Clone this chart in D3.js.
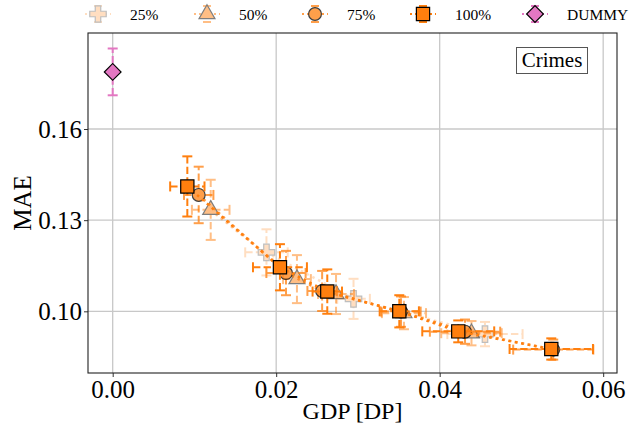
<!DOCTYPE html>
<html>
<head>
<meta charset="utf-8">
<script src="https://cdn.jsdelivr.net/npm/d3@7"></script>
<style>
  body { margin: 0; background: #fff; }
  svg text { font-family: "Liberation Serif", "Times New Roman", serif; fill: #000; }
</style>
</head>
<body>
<div id="chart"></div>
<script>
// data: x = GDP [DP], y = MAE, with x/y error sizes
const series = ["25%", "50%", "75%", "100%", "DUMMY"];

const x25 = [0.01881, 0.02946, 0.04554];
const y25 = [0.1194, 0.1041, 0.0925];
const xe25 = [0.0026, 0.0020, 0.0046];
const ye25 = [0.0076, 0.0066, 0.0040];

const x50 = [0.01199, 0.02254, 0.02732, 0.03563, 0.04389];
const y50 = [0.1334, 0.1106, 0.1057, 0.0994, 0.0928];
const xe50 = [0.0023, 0.0017, 0.0022, 0.0027, 0.0037];
const ye50 = [0.0099, 0.0079, 0.0066, 0.0053, 0.0040];

const x75 = [0.01052, 0.0212, 0.02562, 0.03527, 0.0431, 0.05389];
const y75 = [0.1383, 0.1126, 0.1067, 0.0999, 0.0933, 0.0874];
const xe75 = [0.0018, 0.0024, 0.0018, 0.0024, 0.0043, 0.0049];
const ye75 = [0.0093, 0.0073, 0.0066, 0.0050, 0.0040, 0.0033];

const x100 = [0.00913, 0.02046, 0.02625, 0.03506, 0.04227, 0.05365];
const y100 = [0.1411, 0.1145, 0.1065, 0.1000, 0.0934, 0.0876];
const xe100 = [0.0021, 0.0033, 0.0018, 0.0024, 0.0044, 0.0051];
const ye100 = [0.0099, 0.0076, 0.0073, 0.0053, 0.0036, 0.0035];

const xDummy = [0.0];
const yDummy = [0.1788];
const xeDummy = [0];
const yeDummy = [0.0077];

const xTicks = [0.00, 0.02, 0.04, 0.06];
const yTicks = [0.10, 0.13, 0.16];

const W = 635, H = 427;
const plot = { left: 88, right: 617, top: 33, bottom: 373 };

const svg = d3.select("#chart").append("svg")
    .attr("width", W)
    .attr("height", H);

const x = d3.scaleLinear().domain([-0.00302, 0.06169]).range([plot.left, plot.right]);
const y = d3.scaleLinear().domain([0.0797, 0.1916]).range([plot.bottom, plot.top]);

// grid
svg.append("g").selectAll("line").data(xTicks).enter().append("line")
    .attr("x1", d => x(d)).attr("x2", d => x(d))
    .attr("y1", plot.top).attr("y2", plot.bottom)
    .attr("stroke", "#c8c8c8").attr("stroke-width", 1.3);
svg.append("g").selectAll("line").data(yTicks).enter().append("line")
    .attr("y1", d => y(d)).attr("y2", d => y(d))
    .attr("x1", plot.left).attr("x2", plot.right)
    .attr("stroke", "#c8c8c8").attr("stroke-width", 1.3);

// axes
const xAxis = d3.axisBottom(x).tickValues(xTicks).tickFormat(d3.format(".2f")).tickSize(4).tickPadding(3);
const yAxis = d3.axisLeft(y).tickValues(yTicks).tickFormat(d3.format(".2f")).tickSize(4).tickPadding(2);

const gx = svg.append("g").attr("transform", `translate(0,${plot.bottom})`).call(xAxis);
const gy = svg.append("g").attr("transform", `translate(${plot.left},0)`).call(yAxis);
[gx, gy].forEach(g => {
    g.select(".domain").remove();
    g.selectAll(".tick line").attr("stroke", "#333").attr("stroke-width", 1);
    g.selectAll(".tick text").style("font-size", "25px").attr("fill", "#000");
});
gy.selectAll(".tick text").attr("dy", "0.34em");

svg.append("text")
    .attr("x", (plot.left + plot.right) / 2)
    .attr("y", 419)
    .attr("text-anchor", "middle")
    .style("font-size", "24px")
    .text("GDP [DP]");

svg.append("text")
    .attr("transform", `translate(31,${(plot.top + plot.bottom) / 2}) rotate(-90)`)
    .attr("text-anchor", "middle")
    .style("font-size", "25px")
    .text("MAE");

const orange = "#ff7f0e", pink = "#e377c2";

const symbols = {
    "25%": d3.symbol().type(d3.symbolCross).size(150),
    "50%": d3.symbol().type(d3.symbolTriangle).size(110),
    "75%": d3.symbol().type(d3.symbolCircle).size(130),
    "100%": d3.symbol().type(d3.symbolSquare).size(175),
    "DUMMY": d3.symbol().type(d3.symbolSquare).size(140)
};
const rot = { "DUMMY": 45 };

const groups = [
    { name: "25%", xs: x25, ys: y25, xe: xe25, ye: ye25, color: orange, alpha: 0.25 },
    { name: "50%", xs: x50, ys: y50, xe: xe50, ye: ye50, color: orange, alpha: 0.5 },
    { name: "75%", xs: x75, ys: y75, xe: xe75, ye: ye75, color: orange, alpha: 0.75 },
    { name: "100%", xs: x100, ys: y100, xe: xe100, ye: ye100, color: orange, alpha: 1 },
    { name: "DUMMY", xs: xDummy, ys: yDummy, xe: xeDummy, ye: yeDummy, color: pink, alpha: 1 }
];

const cap = 5;

groups.forEach(s => {
    const pts = s.xs.map((v, i) => ({ x: v, y: s.ys[i], xe: s.xe[i], ye: s.ye[i] }));
    const g = svg.append("g").attr("opacity", s.alpha);

    // error bars
    pts.forEach(p => {
        const cx = x(p.x), cy = y(p.y);
        if (p.xe > 0) {
            g.append("line")
                .attr("x1", x(p.x - p.xe)).attr("x2", x(p.x + p.xe))
                .attr("y1", cy).attr("y2", cy)
                .attr("stroke", s.color).attr("stroke-width", 2)
                .attr("stroke-dasharray", "7.4,3.2");
            [p.x - p.xe, p.x + p.xe].forEach(e => {
                g.append("line")
                    .attr("x1", x(e)).attr("x2", x(e))
                    .attr("y1", cy - cap).attr("y2", cy + cap)
                    .attr("stroke", s.color).attr("stroke-width", 2);
            });
        }
        if (p.ye > 0) {
            g.append("line")
                .attr("x1", cx).attr("x2", cx)
                .attr("y1", y(p.y - p.ye)).attr("y2", y(p.y + p.ye))
                .attr("stroke", s.color).attr("stroke-width", 2)
                .attr("stroke-dasharray", "7.4,3.2");
            [p.y - p.ye, p.y + p.ye].forEach(e => {
                g.append("line")
                    .attr("x1", cx - cap).attr("x2", cx + cap)
                    .attr("y1", y(e)).attr("y2", y(e))
                    .attr("stroke", s.color).attr("stroke-width", 2);
            });
        }
    });

    // dotted connecting line
    const line = d3.line().x(d => x(d.x)).y(d => y(d.y));
    g.append("path")
        .datum(pts)
        .attr("fill", "none")
        .attr("stroke", s.color)
        .attr("stroke-width", 2.5)
        .attr("stroke-dasharray", "2.5,4")
        .attr("d", line);

    g.selectAll("path.mk").data(pts).enter().append("path")
        .attr("class", "mk")
        .attr("transform", d => `translate(${x(d.x)},${y(d.y)}) rotate(${rot[s.name] || 0})`)
        .attr("d", symbols[s.name]())
        .attr("fill", s.color)
        .attr("stroke", "#000")
        .attr("stroke-width", 1.2);
});

// frame
svg.append("rect")
    .attr("x", plot.left).attr("y", plot.top)
    .attr("width", plot.right - plot.left).attr("height", plot.bottom - plot.top)
    .attr("fill", "none").attr("stroke", "#222").attr("stroke-width", 1.1);

// "Crimes" box
svg.append("rect")
    .attr("x", 516.5).attr("y", 47.5).attr("width", 71).attr("height", 26)
    .attr("fill", "#fff").attr("stroke", "#555").attr("stroke-width", 1);
svg.append("text")
    .attr("x", 552).attr("y", 67)
    .attr("text-anchor", "middle")
    .style("font-size", "21px")
    .attr("fill", "#222")
    .text("Crimes");

// legend
const legX = [98, 207, 315, 423, 535];
const legY = 14;
groups.forEach((s, i) => {
    const cx = legX[i];
    const g = svg.append("g").attr("opacity", s.alpha);
    g.append("line")
        .attr("x1", cx - 13).attr("x2", cx + 13)
        .attr("y1", legY).attr("y2", legY)
        .attr("stroke", s.color).attr("stroke-width", 2)
        .attr("stroke-dasharray", "2,3");
    g.append("line")
        .attr("x1", cx).attr("x2", cx)
        .attr("y1", legY - 8).attr("y2", legY + 8)
        .attr("stroke", s.color).attr("stroke-width", 2)
        .attr("stroke-dasharray", "3,2");
    [legY - 8, legY + 8].forEach(e => {
        g.append("line")
            .attr("x1", cx - 4).attr("x2", cx + 4)
            .attr("y1", e).attr("y2", e)
            .attr("stroke", s.color).attr("stroke-width", 2);
    });
    g.append("path")
        .attr("transform", `translate(${cx},${legY}) rotate(${rot[s.name] || 0})`)
        .attr("d", symbols[s.name]())
        .attr("fill", s.color)
        .attr("stroke", "#000")
        .attr("stroke-width", 1.2);
    svg.append("text")
        .attr("x", cx + 32).attr("y", legY + 5.5)
        .style("font-size", "15.5px")
        .text(s.name);
});
</script>
</body>
</html>
